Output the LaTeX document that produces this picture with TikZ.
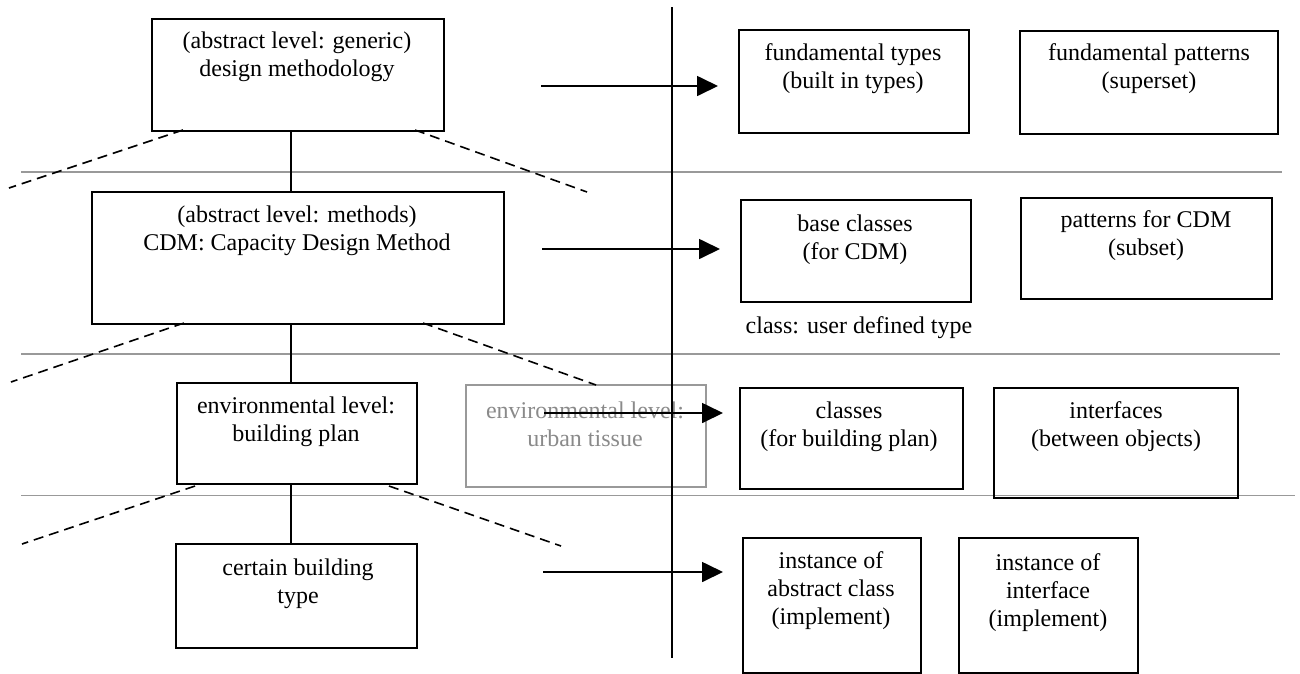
\documentclass[tikz,border=0pt]{standalone}
\usepackage{fontspec}
\setmainfont{Liberation Serif}
\usetikzlibrary{arrows.meta, positioning}
\definecolor{rulegray}{HTML}{999999}
\definecolor{fadegray}{HTML}{8a8a8a}

\begin{document}
\begin{tikzpicture}[x=1pt, y=-1pt,
    blk/.style={draw, line width=1.8pt, anchor=north west, inner sep=0pt},
    txt/.style={align=center, inner sep=0pt, font=\fontsize{24}{28}\selectfont},
    link/.style={line width=1.6pt},
    persp/.style={line width=1.6pt, dash pattern=on 10pt off 6pt},
    arr/.style={line width=1.7pt, -{Triangle[length=21pt, width=20pt]}}]
    \useasboundingbox (0,0) rectangle (1300,673);

    % level separators
    \foreach \y/\xe in {172/1282, 354/1280, 495.5/1295} {
      \draw[rulegray, line width=1.6pt] (21,\y) -- (\xe,\y);
    }

    % left column: levels
    \node[blk, minimum width=292, minimum height=112] (gen) at (151,18) {};
    \node[txt] (genT) at (297,57) {(abstract level: generic)\\design methodology};
    \node[blk, minimum width=412, minimum height=132] (cdm) at (91,191) {};
    \node[txt] (cdmT) at (297,231) {(abstract level: methods)\\CDM: Capacity Design Method};
    \node[blk, minimum width=240, minimum height=101] (bplan) at (176,382) {};
    \node[txt] (bplanT) at (296,422) {environmental level:\\building plan};
    \node[blk, rulegray, minimum width=240, minimum height=102] (urban) at (465,384) {};
    \node[txt, fadegray] (urbanT) at (585,424) {environmental level:\\urban tissue};
    \node[blk, minimum width=241, minimum height=104] (cert) at (175,543) {};
    \node[txt] (certT) at (298,584) {certain building\\type};

    % vertical links
    \coordinate (spine) at (291,0);
    \draw[link] (gen.south -| spine) -- (cdm.north -| spine);
    \draw[link] (cdm.south -| spine) -- (bplan.north -| spine);
    \draw[link] (bplan.south -| spine) -- (cert.north -| spine);

    % perspective lines
    \draw[persp] (183,130) -- (9,188);
    \draw[persp] (415,130) -- (587,192);
    \draw[persp] (184,323) -- (11,382);
    \draw[persp] (423,323) -- (596,385);
    \draw[persp] (195,486) -- (22,544);
    \draw[persp] (389,486) -- (561,546);

    % divider
    \draw[link] (672,7) -- (672,658);

    % mapping arrows
    \foreach \xs/\xe/\y in {541/718/86, 542/720/249, 544/723/413, 543/723/572} {
      \draw[arr] (\xs,\y) -- (\xe,\y);
    }

    % right column: language concepts
    \node[blk, minimum width=230, minimum height=103] (ft) at (738,29) {};
    \node[txt] (ftT) at (853,69) {fundamental types\\(built in types)};
    \node[blk, minimum width=258, minimum height=103] (fp) at (1019,30) {};
    \node[txt] (fpT) at (1149,69) {fundamental patterns\\(superset)};
    \node[blk, minimum width=230, minimum height=102] (base) at (740,199) {};
    \node[txt] (baseT) at (855,240) {base classes\\(for CDM)};
    \node[blk, minimum width=251, minimum height=101] (pcdm) at (1020,197) {};
    \node[txt] (pcdmT) at (1146,236) {patterns for CDM\\(subset)};
    \node[txt] (udt) at (859,328) {class: user defined type};
    \node[blk, minimum width=223, minimum height=101] (cls) at (739,387) {};
    \node[txt] (clsT) at (849,427) {classes\\(for building plan)};
    \node[blk, minimum width=244, minimum height=110] (ifc) at (993,387) {};
    \node[txt] (ifcT) at (1116,427) {interfaces\\(between objects)};
    \node[blk, minimum width=178, minimum height=135] (iac) at (742,537) {};
    \node[txt] (iacT) at (831,591) {instance of\\abstract class\\(implement)};
    \node[blk, minimum width=179, minimum height=135] (iif) at (958,537) {};
    \node[txt] (iifT) at (1048,593) {instance of\\interface\\(implement)};
  \end{tikzpicture}
\end{document}
